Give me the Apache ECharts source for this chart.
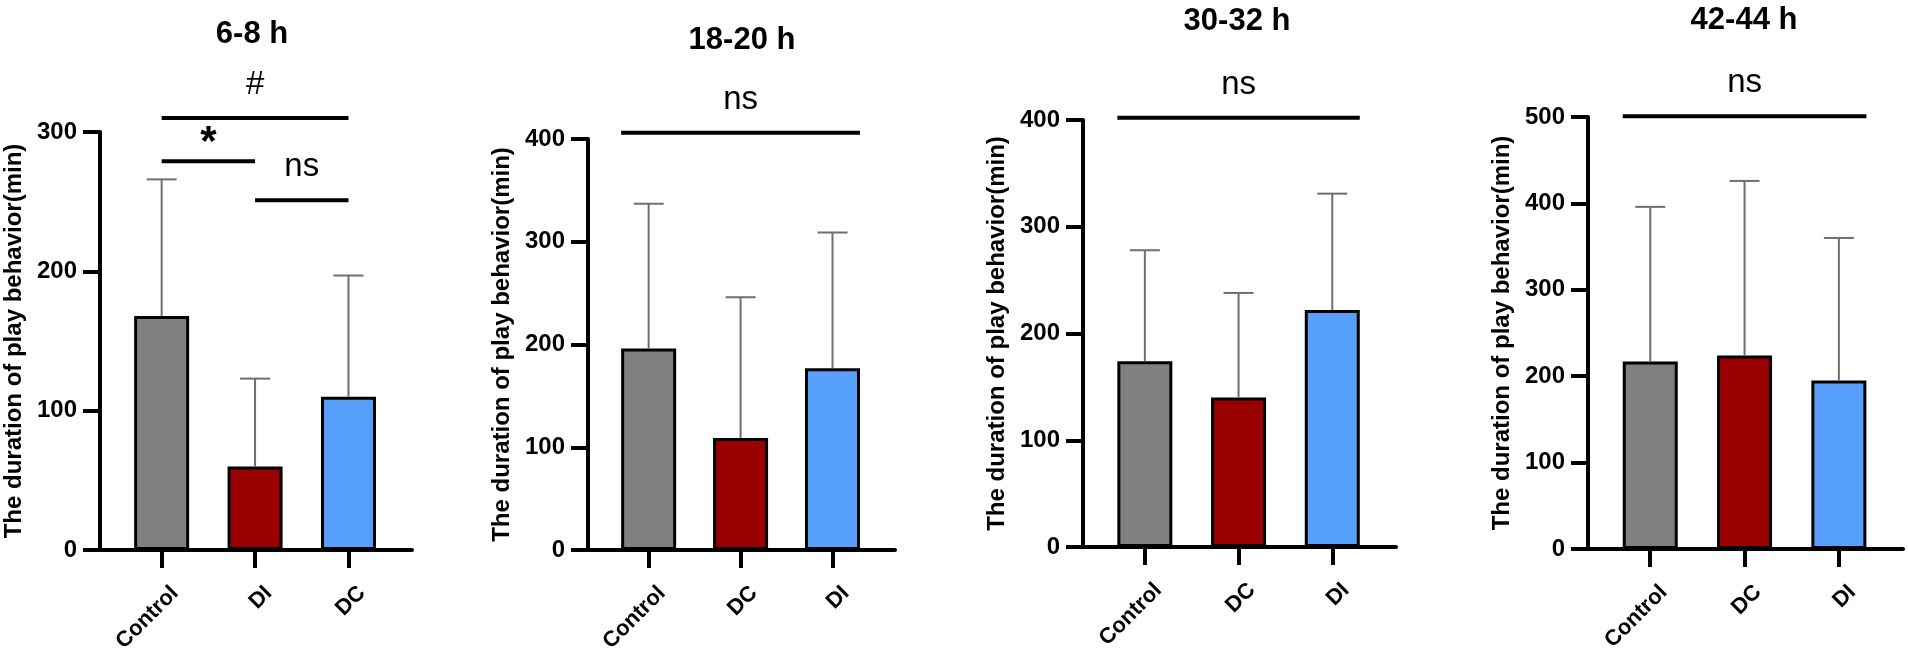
<!DOCTYPE html>
<html>
<head>
<meta charset="utf-8">
<title>play behavior</title>
<script src="https://cdn.jsdelivr.net/npm/echarts@6/dist/echarts.min.js"></script>
<style>
  html, body { margin: 0; padding: 0; background: #fff; }
  #main { width: 1908px; height: 655px; }
</style>
</head>
<body>
<div id="main"></div>
<script>
// data
var titles = ["6-8 h", "18-20 h", "30-32 h", "42-44 h"];
var groups1 = ["Control", "DI", "DC"];
var groups2 = ["Control", "DC", "DI"];
var groups3 = ["Control", "DC", "DI"];
var groups4 = ["Control", "DC", "DI"];
var means1 = [168, 60, 110];
var sd1 = [98, 63, 87];
var means2 = [196, 109, 177];
var sd2 = [141, 137, 132];
var means3 = [174, 140, 222];
var sd3 = [104, 98, 109];
var means4 = [217, 224, 195];
var sd4 = [179, 202, 165];
var yMax = [300, 400, 400, 500];
// significance bars: [from group, to group, level (min), label]
var sig1 = [[0, 2, 310, "#"], [0, 1, 279, "*"], [1, 2, 251, "ns"]];
var sig2 = [[0, 2, 406, "ns"]];
var sig3 = [[0, 2, 402, "ns"]];
var sig4 = [[0, 2, 501, "ns"]];

var groups = [groups1, groups2, groups3, groups4];
var means = [means1, means2, means3, means4];
var sds = [sd1, sd2, sd3, sd4];
var sigs = [sig1, sig2, sig3, sig4];

var FONT = "Liberation Sans";
var barColors = ["#808080", "#9a0000", "#56a0fb"];
var BAR_W = 55;
var LABEL_SHIFT = 0.06; // rotated labels sit a little right of their tick

var layout = [
    { left: 100, top: 132, width: 312, height: 426, tx: 252, ty: 19, span: "center" },
    { left: 588, top: 139, width: 307, height: 422, tx: 742, ty: 25, span: "edge" },
    { left: 1083, top: 120, width: 313, height: 427, tx: 1237, ty: 6, span: "edge" },
    { left: 1588, top: 117, width: 315, height: 432, tx: 1744, ty: 5, span: "edge" }
];

function renderErr(params, api) {
    var base = api.coord([api.value(0), api.value(1)]);
    var top = api.coord([api.value(0), api.value(2)]);
    var st = { stroke: "#6f6f6f", lineWidth: 2 };
    return {
        type: "group",
        children: [
            { type: "line", shape: { x1: base[0], y1: base[1], x2: top[0], y2: top[1] }, style: st },
            { type: "line", shape: { x1: top[0] - 15, y1: top[1], x2: top[0] + 15, y2: top[1] }, style: st }
        ]
    };
}

function makeSig(list, span) {
    return function (params, api) {
        var item = list[params.dataIndex];
        var y = api.coord([0, item[2]])[1];
        var x1 = api.coord([item[0], 0])[0];
        var x2 = api.coord([item[1], 0])[0];
        if (span === "edge") {
            x1 -= BAR_W / 2;
            x2 += BAR_W / 2;
        }
        var star = item[3] === "*";
        return {
            type: "group",
            children: [
                { type: "line", shape: { x1: x1, y1: y, x2: x2, y2: y }, style: { stroke: "#000", lineWidth: 4 } },
                {
                    type: "text",
                    style: {
                        text: item[3],
                        x: (x1 + x2) / 2,
                        y: y - (star ? 18 : 33),
                        align: "center",
                        verticalAlign: "middle",
                        fill: "#000",
                        fontFamily: FONT,
                        fontSize: star ? 42 : 33,
                        fontWeight: star ? "bold" : "normal"
                    }
                }
            ]
        };
    };
}

var option = {
    backgroundColor: "#fff",
    animation: false,
    title: [],
    grid: [],
    xAxis: [],
    yAxis: [],
    series: []
};

for (var p = 0; p < 4; p++) {
    var L = layout[p];
    var cats = groups[p];
    option.title.push({
        text: titles[p],
        left: L.tx,
        top: L.ty,
        textAlign: "center",
        padding: 0,
        textStyle: { fontFamily: FONT, fontSize: 31, fontWeight: "bold", color: "#000" }
    });
    option.grid.push({ left: L.left, top: L.top, width: L.width, height: L.height, containLabel: false });
    option.xAxis.push({
        type: "value",
        gridIndex: p,
        min: -0.66,
        max: 2.68,
        splitLine: { show: false },
        axisLine: { show: true, onZero: false, lineStyle: { color: "#000", width: 4 } },
        axisTick: { show: true, customValues: [0, 1, 2], length: 18, lineStyle: { color: "#000", width: 4 } },
        axisLabel: {
            customValues: [0 + LABEL_SHIFT, 1 + LABEL_SHIFT, 2 + LABEL_SHIFT],
            rotate: 45,
            margin: 32,
            align: "right",
            verticalAlign: "top",
            color: "#000",
            fontFamily: FONT,
            fontSize: 22,
            fontWeight: "bold",
            formatter: (function (c) {
                return function (v) { return c[Math.round(v)]; };
            })(cats)
        }
    });
    option.yAxis.push({
        type: "value",
        gridIndex: p,
        min: 0,
        max: yMax[p],
        interval: 100,
        name: "The duration of play behavior(min)",
        nameLocation: "middle",
        nameGap: 74,
        nameTextStyle: { fontFamily: FONT, fontSize: 24, fontWeight: "bold", color: "#000" },
        splitLine: { show: false },
        axisLine: { show: true, onZero: false, lineStyle: { color: "#000", width: 4 } },
        axisTick: { show: true, length: 17, lineStyle: { color: "#000", width: 4 } },
        axisLabel: { margin: 23, color: "#000", fontFamily: FONT, fontSize: 24, fontWeight: "bold" }
    });
    option.series.push({
        type: "bar",
        xAxisIndex: p,
        yAxisIndex: p,
        barWidth: BAR_W,
        data: means[p].map(function (m, i) {
            return { value: [i, m], itemStyle: { color: barColors[i] } };
        }),
        itemStyle: { borderColor: "#000", borderWidth: 3 }
    });
    option.series.push({
        type: "custom",
        xAxisIndex: p,
        yAxisIndex: p,
        z: 3,
        clip: false,
        renderItem: renderErr,
        data: means[p].map(function (m, i) {
            return [i, m, m + sds[p][i]];
        })
    });
    option.series.push({
        type: "custom",
        xAxisIndex: p,
        yAxisIndex: p,
        z: 4,
        clip: false,
        renderItem: makeSig(sigs[p], L.span),
        data: sigs[p].map(function (s) {
            return [s[0], s[1], s[2]];
        })
    });
}

var myChart = echarts.init(document.getElementById("main"));
myChart.setOption(option);
</script>
</body>
</html>
